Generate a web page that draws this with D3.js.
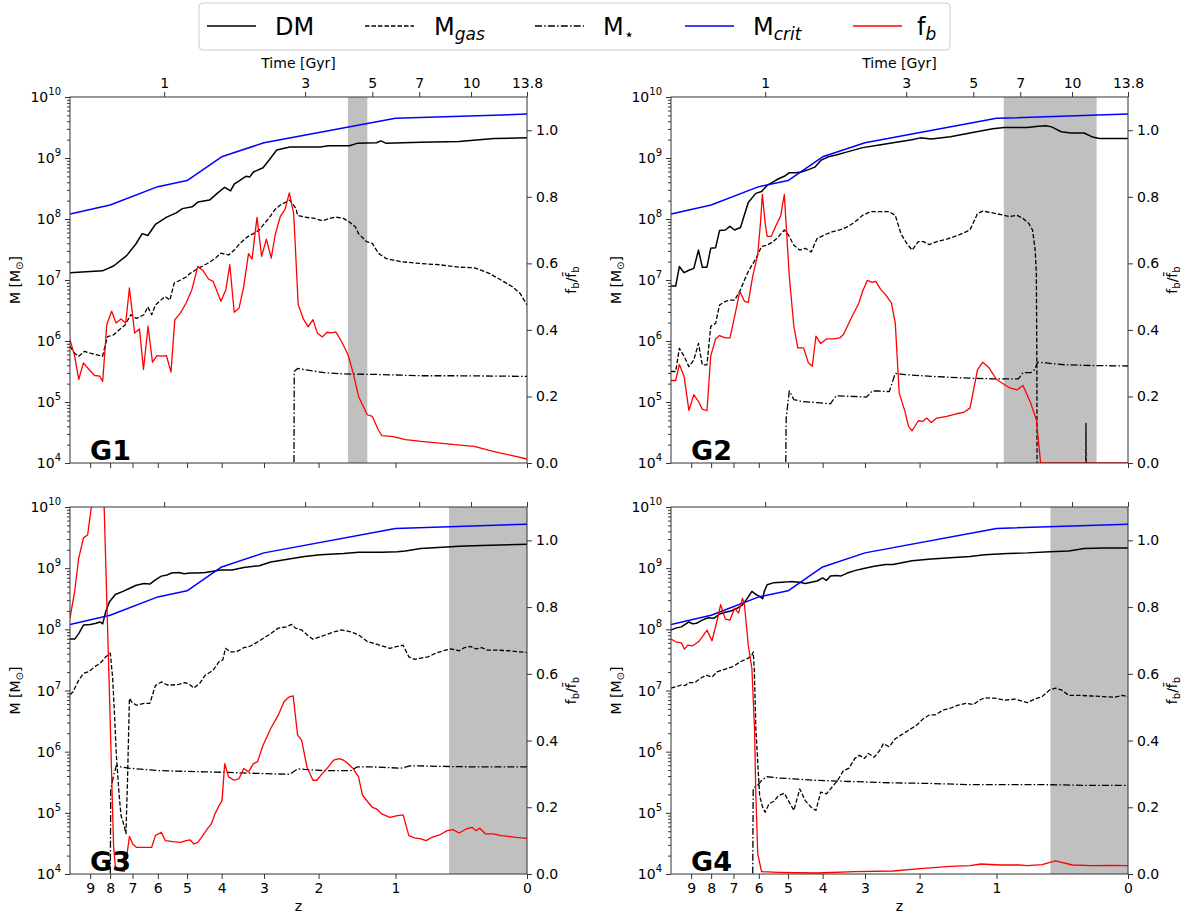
<!DOCTYPE html>
<html>
<head>
<meta charset="utf-8">
<script src="https://cdn.jsdelivr.net/npm/d3@7/dist/d3.min.js"></script>
<style>
html,body{margin:0;padding:0;background:#fff;}
svg text{font-family:"DejaVu Sans",sans-serif;fill:#000;}
</style>
</head>
<body>
<svg id="chart" width="1186" height="916"></svg>
<script>
// ---------------- data ----------------
const zTicks = [9,8,7,6,5,4,3,2,1,0];
const timeTickLabels = ["1","3","5","7","10","13.8"];
const timeTickZ = [5.77,2.22,1.26,0.765,0.343,0];
const massTickExp = [4,5,6,7,8,9,10];
const fbTicks = [0,0.2,0.4,0.6,0.8,1.0];
const panelNames = ["G1","G2","G3","G4"];
const shadeRanges = [[1.57,1.32],[0.925,0.18],[0.508,0],[0.505,0]];
const zMax = 10.12;
// series are [z, value]; masses are log10(M/Msun), f_b is f_b / mean f_b
const mCrit = [[10.12,8.08],[8,8.23],[6,8.53],[5,8.63],[4,9.02],[3,9.25],[1,9.65],[0,9.72]];

const g1Dm = [[10.12,7.12],[9.0,7.14],[8.37,7.15],[7.84,7.23],[7.25,7.40],[6.86,7.59],[6.60,7.76],[6.38,7.73],[6.09,7.91],[5.68,8.03],[5.35,8.10],[5.15,8.17],[4.84,8.20],[4.66,8.28],[4.33,8.31],[4.12,8.42],[3.92,8.52],[3.77,8.46],[3.68,8.57],[3.40,8.70],[3.31,8.69],[3.23,8.77],[3.02,8.84],[2.90,8.96],[2.74,9.13],[2.49,9.18],[1.97,9.18],[1.85,9.20],[1.55,9.20],[1.45,9.24],[1.21,9.25],[1.16,9.28],[1.10,9.24],[0.75,9.26],[0.43,9.27],[0.19,9.32],[0,9.33]];
const g1Gas = [[10.12,5.91],[9.85,5.80],[9.62,5.75],[9.30,5.83],[8.99,5.80],[8.37,5.75],[8.13,6.07],[7.84,6.10],[7.59,6.18],[7.33,6.26],[7.07,6.43],[6.84,6.37],[6.53,6.43],[6.38,6.56],[6.23,6.43],[6.09,6.59],[5.74,6.73],[5.57,6.67],[5.42,6.95],[5.21,7.00],[5.03,7.05],[4.90,7.11],[4.66,7.19],[4.39,7.27],[4.18,7.35],[4.02,7.44],[3.82,7.41],[3.68,7.49],[3.54,7.60],[3.36,7.71],[3.23,7.76],[3.10,7.82],[3.02,7.90],[2.90,8.01],[2.78,8.15],[2.67,8.23],[2.49,8.31],[2.38,8.17],[2.35,8.06],[2.23,8.03],[2.06,8.01],[1.94,7.97],[1.83,8.01],[1.74,8.03],[1.63,8.01],[1.55,7.95],[1.47,7.87],[1.43,7.76],[1.33,7.63],[1.26,7.60],[1.19,7.44],[1.10,7.35],[0.94,7.30],[0.75,7.27],[0.586,7.25],[0.43,7.21],[0.32,7.20],[0.22,7.11],[0.147,7.00],[0.08,6.89],[0.037,6.78],[0,6.59]];
const g1Star = [[2.43,0],[2.41,5.50],[2.35,5.55],[2.23,5.53],[1.91,5.48],[1.63,5.46],[1.15,5.45],[0.75,5.43],[0.43,5.43],[0,5.42]];
const g1Fb = [[10.12,0.371],[9.85,0.321],[9.62,0.251],[9.36,0.301],[9.06,0.281],[8.76,0.263],[8.51,0.261],[8.36,0.245],[8.16,0.416],[7.93,0.456],[7.72,0.421],[7.50,0.433],[7.29,0.421],[7.13,0.526],[6.91,0.391],[6.71,0.403],[6.55,0.281],[6.37,0.411],[6.20,0.303],[6.03,0.323],[5.87,0.321],[5.69,0.323],[5.53,0.273],[5.40,0.431],[5.21,0.451],[5.03,0.481],[4.85,0.521],[4.67,0.591],[4.50,0.576],[4.36,0.553],[4.23,0.546],[4.02,0.486],[3.89,0.521],[3.79,0.596],[3.68,0.453],[3.56,0.466],[3.45,0.531],[3.34,0.629],[3.26,0.613],[3.15,0.738],[3.05,0.621],[2.95,0.673],[2.85,0.616],[2.77,0.686],[2.67,0.741],[2.58,0.762],[2.50,0.812],[2.42,0.749],[2.34,0.476],[2.25,0.433],[2.17,0.409],[2.09,0.431],[2.02,0.391],[1.94,0.379],[1.87,0.393],[1.80,0.391],[1.74,0.394],[1.66,0.366],[1.57,0.326],[1.50,0.271],[1.43,0.200],[1.38,0.175],[1.32,0.145],[1.26,0.140],[1.19,0.100],[1.15,0.082],[1.04,0.080],[0.96,0.075],[0.90,0.070],[0.83,0.068],[0.75,0.065],[0.585,0.060],[0.463,0.055],[0.322,0.050],[0.195,0.035],[0.080,0.022],[0,0.012]];

const g2Dm = [[10.12,6.90],[9.85,6.90],[9.64,7.22],[9.38,7.12],[9.12,7.16],[8.86,7.19],[8.62,7.49],[8.43,7.21],[8.20,7.21],[8.02,7.52],[7.79,7.53],[7.61,7.81],[7.35,7.82],[7.15,7.88],[6.95,7.82],[6.71,7.86],[6.40,8.27],[6.11,8.42],[5.90,8.45],[5.70,8.55],[5.49,8.61],[5.31,8.66],[5.12,8.70],[4.96,8.76],[4.76,8.76],[4.59,8.77],[4.39,8.81],[4.21,8.85],[4.05,8.96],[3.85,9.02],[3.66,9.05],[3.39,9.10],[3.05,9.17],[2.74,9.21],[2.45,9.25],[2.12,9.30],[1.99,9.33],[1.82,9.31],[1.55,9.35],[1.30,9.41],[1.04,9.48],[0.92,9.50],[0.70,9.50],[0.605,9.52],[0.541,9.53],[0.496,9.51],[0.422,9.43],[0.352,9.41],[0.26,9.41],[0.211,9.35],[0.163,9.32],[0.073,9.32],[0,9.32]];
const g2Gas = [[10.12,5.50],[9.85,5.50],[9.64,5.88],[9.38,5.75],[9.12,5.58],[8.86,5.69],[8.62,5.96],[8.43,5.61],[8.20,5.61],[8.02,6.24],[7.79,6.29],[7.61,6.59],[7.35,6.65],[7.15,6.67],[6.95,6.67],[6.71,6.84],[6.55,7.00],[6.40,7.14],[6.11,7.35],[5.90,7.55],[5.70,7.57],[5.49,7.63],[5.31,7.71],[5.12,7.82],[4.99,7.74],[4.82,7.57],[4.64,7.49],[4.48,7.52],[4.31,7.46],[4.15,7.68],[3.95,7.74],[3.76,7.79],[3.57,7.82],[3.39,7.87],[3.22,7.95],[3.05,8.06],[2.89,8.12],[2.74,8.12],[2.52,8.12],[2.41,8.06],[2.31,7.76],[2.21,7.60],[2.12,7.49],[2.02,7.63],[1.94,7.63],[1.85,7.58],[1.74,7.63],[1.60,7.67],[1.50,7.71],[1.40,7.76],[1.30,7.82],[1.21,8.09],[1.15,8.13],[1.04,8.10],[0.92,8.06],[0.866,8.04],[0.793,8.06],[0.739,8.01],[0.688,7.93],[0.654,7.82],[0.631,7.49],[0.621,7.11],[0.617,5.75],[0.61,0],[0.258,0],[0.248,4.65],[0.238,0],[0,0]];
const g2Star = [[5.14,0],[5.06,4.74],[4.96,5.18],[4.82,5.04],[4.59,5.01],[4.15,4.99],[3.80,4.97],[3.66,5.10],[3.22,5.09],[2.97,5.08],[2.85,5.18],[2.74,5.18],[2.52,5.17],[2.41,5.47],[2.24,5.45],[1.82,5.42],[1.30,5.39],[1.04,5.38],[0.782,5.38],[0.739,5.48],[0.670,5.48],[0.637,5.53],[0.61,5.65],[0.541,5.64],[0.394,5.61],[0.26,5.60],[0,5.59]];
const g2Fb = [[10.12,0.248],[9.85,0.248],[9.64,0.296],[9.38,0.261],[9.12,0.158],[8.86,0.205],[8.62,0.185],[8.43,0.162],[8.20,0.157],[8.02,0.321],[7.79,0.373],[7.61,0.383],[7.35,0.376],[7.15,0.376],[6.95,0.441],[6.74,0.516],[6.55,0.486],[6.40,0.483],[6.23,0.561],[6.04,0.626],[5.94,0.721],[5.87,0.807],[5.77,0.721],[5.70,0.681],[5.56,0.681],[5.41,0.711],[5.24,0.742],[5.12,0.807],[4.96,0.561],[4.82,0.411],[4.70,0.346],[4.53,0.346],[4.39,0.301],[4.28,0.291],[4.18,0.381],[4.05,0.359],[3.90,0.373],[3.71,0.373],[3.57,0.376],[3.48,0.386],[3.30,0.436],[3.13,0.481],[3.05,0.516],[2.95,0.549],[2.85,0.543],[2.78,0.546],[2.68,0.521],[2.59,0.506],[2.48,0.481],[2.41,0.421],[2.34,0.210],[2.24,0.155],[2.18,0.110],[2.12,0.097],[2.02,0.127],[1.95,0.125],[1.89,0.135],[1.82,0.122],[1.74,0.135],[1.60,0.140],[1.47,0.148],[1.38,0.152],[1.30,0.165],[1.21,0.281],[1.15,0.303],[1.08,0.286],[1.00,0.251],[0.92,0.236],[0.866,0.226],[0.793,0.220],[0.739,0.233],[0.670,0.180],[0.621,0.130],[0.585,0],[0,0]];

const g3Dm = [[10.12,7.84],[9.85,7.84],[9.62,7.93],[9.36,8.07],[8.99,8.08],[8.69,8.10],[8.50,8.12],[8.36,8.09],[8.21,8.29],[8.03,8.45],[7.76,8.57],[7.41,8.62],[7.07,8.68],[6.84,8.72],[6.53,8.75],[6.30,8.74],[6.09,8.81],[5.87,8.87],[5.66,8.89],[5.51,8.92],[5.27,8.93],[5.09,8.91],[4.90,8.92],[4.67,8.92],[4.45,8.93],[4.23,8.95],[4.02,8.97],[3.73,8.97],[3.45,9.01],[3.10,9.04],[2.86,9.10],[2.56,9.14],[2.23,9.19],[1.97,9.22],[1.63,9.24],[1.43,9.26],[1.15,9.26],[0.98,9.27],[0.90,9.28],[0.75,9.32],[0.43,9.36],[0.27,9.37],[0,9.39]];
const g3Gas = [[10.12,6.93],[9.94,6.98],[9.62,7.17],[9.36,7.28],[9.06,7.31],[8.76,7.39],[8.50,7.44],[8.21,7.55],[7.99,7.61],[7.88,7.20],[7.80,6.65],[7.71,5.94],[7.58,5.28],[7.50,4.96],[7.36,4.79],[7.28,4.66],[7.21,5.56],[7.13,6.87],[7.03,6.81],[6.84,6.76],[6.53,6.79],[6.30,6.79],[6.09,7.08],[5.87,7.14],[5.66,7.09],[5.47,7.09],[5.27,7.10],[5.06,7.13],[4.90,7.09],[4.79,7.04],[4.61,7.12],[4.45,7.25],[4.23,7.33],[4.07,7.47],[3.97,7.50],[3.90,7.69],[3.78,7.63],[3.63,7.63],[3.45,7.70],[3.32,7.72],[3.19,7.77],[3.02,7.85],[2.86,7.93],[2.71,8.02],[2.56,8.04],[2.46,8.08],[2.39,8.02],[2.28,7.99],[2.15,7.88],[2.09,7.84],[1.97,7.88],[1.79,7.95],[1.66,7.99],[1.53,7.96],[1.43,7.91],[1.32,7.80],[1.24,7.77],[1.15,7.73],[1.06,7.69],[0.98,7.72],[0.921,7.74],[0.864,7.55],[0.809,7.51],[0.75,7.53],[0.685,7.55],[0.618,7.61],[0.554,7.65],[0.493,7.68],[0.43,7.65],[0.391,7.70],[0.349,7.72],[0.309,7.68],[0.270,7.70],[0.232,7.66],[0.171,7.66],[0.102,7.65],[0,7.62]];
const g3Star = [[8.05,0],[7.97,5.39],[7.84,5.61],[7.71,5.77],[7.50,5.75],[7.16,5.73],[6.53,5.71],[5.94,5.69],[5.15,5.68],[4.45,5.67],[3.82,5.66],[2.94,5.64],[2.49,5.63],[2.35,5.72],[2.23,5.71],[1.91,5.69],[1.53,5.69],[1.45,5.75],[1.24,5.75],[0.941,5.73],[0.845,5.77],[0.585,5.76],[0.295,5.75],[0,5.75]];
const g3Fb = [[10.12,0.767],[9.85,0.847],[9.62,0.947],[9.36,1.007],[9.13,1.017],[8.40,1.34],[8.03,0.536],[7.84,0.085],[7.76,0.025],[7.58,0.010],[7.36,0.008],[7.24,0.055],[7.13,0.113],[6.99,0.090],[6.84,0.080],[6.53,0.080],[6.23,0.080],[6.09,0.115],[5.87,0.125],[5.73,0.100],[5.47,0.097],[5.21,0.095],[5.03,0.100],[4.90,0.102],[4.79,0.090],[4.67,0.095],[4.56,0.110],[4.39,0.135],[4.28,0.150],[4.18,0.180],[4.07,0.205],[3.99,0.220],[3.92,0.331],[3.82,0.291],[3.68,0.281],[3.56,0.286],[3.45,0.316],[3.34,0.306],[3.23,0.331],[3.14,0.336],[3.02,0.386],[2.86,0.436],[2.71,0.476],[2.60,0.516],[2.50,0.531],[2.43,0.534],[2.35,0.416],[2.28,0.401],[2.19,0.321],[2.09,0.281],[2.03,0.281],[1.94,0.301],[1.85,0.321],[1.77,0.341],[1.69,0.346],[1.63,0.341],[1.57,0.331],[1.50,0.316],[1.43,0.291],[1.38,0.236],[1.31,0.215],[1.26,0.200],[1.21,0.195],[1.15,0.180],[1.06,0.170],[0.98,0.175],[0.921,0.177],[0.864,0.115],[0.809,0.108],[0.75,0.105],[0.702,0.100],[0.651,0.110],[0.585,0.117],[0.523,0.130],[0.478,0.133],[0.43,0.123],[0.377,0.135],[0.336,0.140],[0.309,0.130],[0.283,0.137],[0.244,0.120],[0.195,0.120],[0.147,0.115],[0.102,0.113],[0.058,0.110],[0,0.107]];

const g4Dm = [[10.12,7.99],[9.85,8.02],[9.53,8.04],[9.32,8.08],[9.12,8.12],[8.92,8.09],[8.72,8.10],[8.43,8.15],[8.15,8.19],[7.88,8.18],[7.61,8.25],[7.35,8.28],[7.11,8.30],[6.87,8.34],[6.63,8.40],[6.43,8.51],[6.26,8.62],[6.11,8.57],[5.97,8.54],[5.86,8.50],[5.80,8.62],[5.70,8.73],[5.49,8.76],[5.18,8.77],[4.93,8.78],[4.64,8.77],[4.48,8.75],[4.31,8.77],[4.15,8.79],[4.00,8.84],[3.90,8.80],[3.80,8.87],[3.66,8.88],[3.55,8.87],[3.39,8.92],[3.22,8.96],[3.05,8.99],[2.81,9.03],[2.59,9.06],[2.45,9.06],[2.12,9.12],[1.82,9.15],[1.55,9.17],[1.30,9.19],[1.13,9.22],[0.884,9.24],[0.70,9.25],[0.511,9.27],[0.366,9.28],[0.26,9.32],[0.140,9.33],[0,9.33]];
const g4Gas = [[10.12,7.04],[9.85,7.06],[9.53,7.09],[9.32,7.08],[9.12,7.13],[8.81,7.13],[8.52,7.20],[8.24,7.25],[7.96,7.22],[7.70,7.31],[7.35,7.35],[7.03,7.39],[6.71,7.47],[6.40,7.53],[6.26,7.58],[6.21,7.63],[6.17,7.36],[6.11,6.38],[6.04,5.83],[5.97,5.28],[5.86,5.09],[5.77,5.01],[5.63,5.15],[5.46,5.19],[5.31,5.28],[5.12,5.32],[4.99,5.20],[4.82,5.04],[4.64,5.39],[4.48,5.20],[4.31,5.09],[4.18,5.04],[4.05,5.34],[3.90,5.31],[3.76,5.42],[3.62,5.53],[3.48,5.69],[3.35,5.73],[3.22,5.89],[3.12,5.94],[3.01,5.89],[2.93,5.97],[2.81,5.91],[2.70,6.02],[2.63,6.13],[2.52,6.08],[2.41,6.21],[2.31,6.27],[2.18,6.35],[2.05,6.43],[1.94,6.54],[1.85,6.60],[1.76,6.60],[1.65,6.68],[1.55,6.71],[1.45,6.76],[1.35,6.79],[1.26,6.77],[1.19,6.84],[1.13,6.88],[1.00,6.87],[0.92,6.84],[0.81,6.86],[0.70,6.80],[0.637,6.86],[0.573,6.90],[0.511,7.01],[0.466,7.04],[0.422,7.01],[0.366,6.92],[0.286,6.92],[0.211,6.91],[0.140,6.90],[0.073,6.89],[0.031,6.92],[0,6.90]];
const g4Star = [[6.28,0],[6.21,5.40],[6.04,5.45],[5.90,5.53],[5.72,5.59],[5.31,5.57],[4.70,5.55],[4.15,5.53],[3.22,5.51],[2.45,5.49],[1.82,5.48],[1.30,5.46],[0.884,5.46],[0.541,5.46],[0.26,5.45],[0,5.45]];
const g4Fb = [[10.12,0.704],[9.85,0.696],[9.53,0.693],[9.36,0.674],[9.18,0.686],[8.92,0.684],[8.62,0.696],[8.43,0.711],[8.20,0.731],[7.96,0.699],[7.79,0.741],[7.56,0.807],[7.35,0.764],[7.15,0.761],[6.95,0.797],[6.79,0.782],[6.63,0.827],[6.55,0.807],[6.40,0.686],[6.26,0.616],[6.16,0.436],[6.11,0.236],[6.04,0.060],[5.90,0.007],[5.31,0.005],[4.15,0.003],[3.22,0.007],[2.45,0.009],[1.94,0.017],[1.55,0.023],[1.30,0.025],[1.17,0.030],[0.963,0.027],[0.774,0.027],[0.70,0.025],[0.573,0.028],[0.466,0.039],[0.339,0.027],[0.211,0.025],[0.095,0.026],[0,0.025]];

const legendLabels = [["DM",""],["M","gas"],["M","\u22C6"],["M","crit"],["f","b"]];

// ---------------- drawing ----------------
const svg = d3.select("#chart");
const FONT = 14;
const AXC = "#333";
const panelData = [
  {dm:g1Dm, gas:g1Gas, star:g1Star, fb:g1Fb},
  {dm:g2Dm, gas:g2Gas, star:g2Star, fb:g2Fb},
  {dm:g3Dm, gas:g3Gas, star:g3Star, fb:g3Fb},
  {dm:g4Dm, gas:g4Gas, star:g4Star, fb:g4Fb}
];
const layout = [
  {x0:70, x1:527, y0:97, y1:463, top:true},
  {x0:671, x1:1128, y0:97, y1:463, top:true},
  {x0:70, x1:527, y0:507, y1:874, top:false},
  {x0:671, x1:1128, y0:507, y1:874, top:false}
];
const styles = {
  dm:{color:"#000", width:1.5, dash:null},
  gas:{color:"#000", width:1.3, dash:"4.5,2"},
  star:{color:"#000", width:1.3, dash:"7,2.2,1.5,2.2"},
  crit:{color:"#0000ff", width:1.5, dash:null},
  fb:{color:"#ff0000", width:1.3, dash:null}
};

function styleAxis(g){
  g.select(".domain").remove();
  g.selectAll(".tick line").attr("stroke",AXC).attr("stroke-width",1);
  g.selectAll(".tick text").attr("font-size",FONT).attr("font-family","DejaVu Sans").attr("fill","#000");
}

panelNames.forEach((name,i)=>{
  const L = layout[i], D = panelData[i];
  const g = svg.append("g");
  const x = d3.scaleLog().domain([1+zMax,1]).range([L.x0,L.x1]);
  const yM = d3.scaleLog().domain([1e4,1e10]).range([L.y1,L.y0]);
  const yF = d3.scaleLinear().domain([0,1.1]).range([L.y1,L.y0]);
  const cid = "clip"+i;
  svg.append("clipPath").attr("id",cid).append("rect")
    .attr("x",L.x0).attr("y",L.y0).attr("width",L.x1-L.x0).attr("height",L.y1-L.y0);
  const plot = g.append("g").attr("clip-path",`url(#${cid})`);
  // shaded band
  const s = shadeRanges[i];
  plot.append("rect").attr("x",x(1+s[0])).attr("y",L.y0)
    .attr("width",x(1+s[1])-x(1+s[0])).attr("height",L.y1-L.y0).attr("fill","#c0c0c0");
  const lineM = d3.line().x(d=>x(1+d[0])).y(d=>yM(Math.pow(10,d[1])));
  const lineF = d3.line().x(d=>x(1+d[0])).y(d=>yF(d[1]));
  const draw = (data, st, gen)=>{
    const p = plot.append("path").attr("d",gen(data)).attr("fill","none")
      .attr("stroke",st.color).attr("stroke-width",st.width).attr("stroke-linejoin","round");
    if(st.dash) p.attr("stroke-dasharray",st.dash);
  };
  draw(D.dm, styles.dm, lineM);
  draw(D.gas, styles.gas, lineM);
  draw(D.star, styles.star, lineM);
  draw(mCrit, styles.crit, lineM);
  draw(D.fb, styles.fb, lineF);

  // frame
  g.append("rect").attr("x",L.x0).attr("y",L.y0).attr("width",L.x1-L.x0).attr("height",L.y1-L.y0)
    .attr("fill","none").attr("stroke",AXC).attr("stroke-width",1);

  // bottom z axis
  const bottom = g.append("g").attr("transform",`translate(0,${L.y1})`)
    .call(d3.axisBottom(x).tickValues(zTicks.map(z=>1+z)).tickSize(5).tickPadding(4)
      .tickFormat((d,k)=> L.top ? "" : String(zTicks[k])));
  styleAxis(bottom);
  if(!L.top){
    g.append("text").attr("x",(L.x0+L.x1)/2).attr("y",L.y1+37).attr("text-anchor","middle")
      .attr("font-size",FONT).text("z");
  }
  // top time axis
  const top = g.append("g").attr("transform",`translate(0,${L.y0})`)
    .call(d3.axisTop(x).tickValues(timeTickZ.map(z=>1+z)).tickSize(5).tickPadding(4)
      .tickFormat((d,k)=> L.top ? timeTickLabels[k] : ""));
  styleAxis(top);
  if(L.top){
    g.append("text").attr("x",(L.x0+L.x1)/2).attr("y",L.y0-29).attr("text-anchor","middle")
      .attr("font-size",FONT).text("Time [Gyr]");
  }
  // left log axis: major + minor ticks
  const minor = [];
  for(let e=4;e<10;e++) for(let m=2;m<10;m++) minor.push(m*Math.pow(10,e));
  const lmin = g.append("g").attr("transform",`translate(${L.x0},0)`)
    .call(d3.axisLeft(yM).tickValues(minor).tickSize(3).tickFormat(""));
  styleAxis(lmin);
  const lmaj = g.append("g").attr("transform",`translate(${L.x0},0)`)
    .call(d3.axisLeft(yM).tickValues(massTickExp.map(e=>Math.pow(10,e))).tickSize(5).tickFormat(""));
  styleAxis(lmaj);
  massTickExp.forEach(e=>{
    const t = g.append("text").attr("x",L.x0-9).attr("y",yM(Math.pow(10,e))+5)
      .attr("text-anchor","end").attr("font-size",FONT);
    t.append("tspan").text("10");
    t.append("tspan").attr("dy",-7).attr("font-size",10).text(e);
  });
  const ml = g.append("text").attr("transform",`translate(${L.x0-50},${(L.y0+L.y1)/2}) rotate(-90)`)
    .attr("text-anchor","middle").attr("font-size",FONT);
  ml.append("tspan").text("M [M");
  ml.append("tspan").attr("dy",3).attr("font-size",10).text("\u2299");
  ml.append("tspan").attr("dy",-3).text("]");
  // right f_b axis
  const right = g.append("g").attr("transform",`translate(${L.x1},0)`)
    .call(d3.axisRight(yF).tickValues(fbTicks).tickSize(5).tickPadding(4).tickFormat(d3.format(".1f")));
  styleAxis(right);
  const fl = g.append("text").attr("transform",`translate(${L.x1+49},${(L.y0+L.y1)/2}) rotate(-90)`)
    .attr("text-anchor","middle").attr("font-size",FONT).attr("fill","#222");
  fl.append("tspan").text("f");
  fl.append("tspan").attr("dy",3).attr("font-size",10).text("b");
  fl.append("tspan").attr("dy",-3).text("/f\u0304");
  fl.append("tspan").attr("dy",3).attr("font-size",10).text("b");
  // panel label
  g.append("text").attr("x",L.x0+20).attr("y",L.y1-3).attr("font-size",27)
    .attr("font-weight","bold").text(name);
});

// ---------------- legend ----------------
const lg = svg.append("g");
lg.append("rect").attr("x",199).attr("y",3).attr("width",751).attr("height",47).attr("rx",4)
  .attr("fill","#fff").attr("stroke","#cccccc").attr("stroke-width",1);
const legStyles = [styles.dm, styles.gas, styles.star, styles.crit, styles.fb];
const legLineX = [207,365,535,685,853];
const legTextX = [275,434,603,753,917];
legendLabels.forEach((lab,k)=>{
  const st = legStyles[k];
  const ln = lg.append("line").attr("x1",legLineX[k]).attr("x2",legLineX[k]+49)
    .attr("y1",26).attr("y2",26).attr("stroke",st.color).attr("stroke-width",st.width);
  if(st.dash) ln.attr("stroke-dasharray",st.dash);
  const t = lg.append("text").attr("x",legTextX[k]).attr("y",35).attr("font-size",24);
  t.append("tspan").text(lab[0]);
  if(lab[1]){
    const sub = t.append("tspan").attr("dy",5).attr("font-size",17).text(lab[1]);
    if(k!==2) sub.attr("font-style","italic");
  }
});
</script>
</body>
</html>
